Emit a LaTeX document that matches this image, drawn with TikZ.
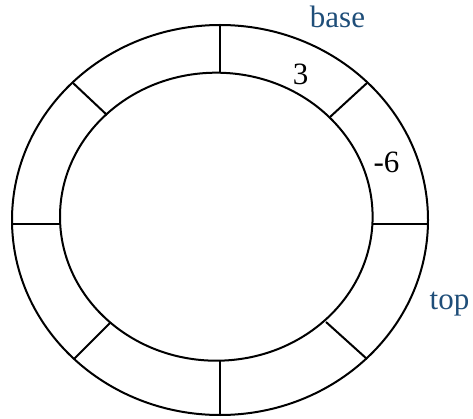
\documentclass[tikz,border=0pt]{standalone}
\usepackage{fontspec}
\setmainfont{Liberation Serif}
\usepackage{xcolor}
\usepackage{tikz}
\usetikzlibrary{positioning}
\definecolor{labelblue}{RGB}{31,78,121}

\begin{document}
\begin{tikzpicture}[x=1pt, y=-1pt, line width=2pt, font=\fontsize{31}{36}\selectfont]
% Ring of eight slots: outer ellipse c=(220,220) r=(208,195), inner c=(216.3,216.7) r=(156.3,144)
\useasboundingbox (0,0) rectangle (473,419);
\draw (220,220) ellipse [x radius=208pt, y radius=195pt];
\draw (216.3,216.7) ellipse [x radius=156.3pt, y radius=144pt];
% Slot dividers: outer point -> inner point
\foreach \ox/\oy/\ix/\iy in {220/25/220/73, 367/83/330/117, 428/224/372/224, 367/359/326/322,
                             220/415/220/361, 74/359/110/323, 13/224/60/224, 73/83/107/115} {
    \draw (\ox,\oy) -- (\ix,\iy);
}
% Slot values
\node[anchor=base] (three) at (300.5,85) {3};
\node[anchor=base] (minussix) at (386.5,173) {-6};
% Pointers
\node[anchor=base, text=labelblue] (base) at (337.5,28) {base};
\node[anchor=base, text=labelblue] (top) at (449.5,309) {top};
\end{tikzpicture}
\end{document}
